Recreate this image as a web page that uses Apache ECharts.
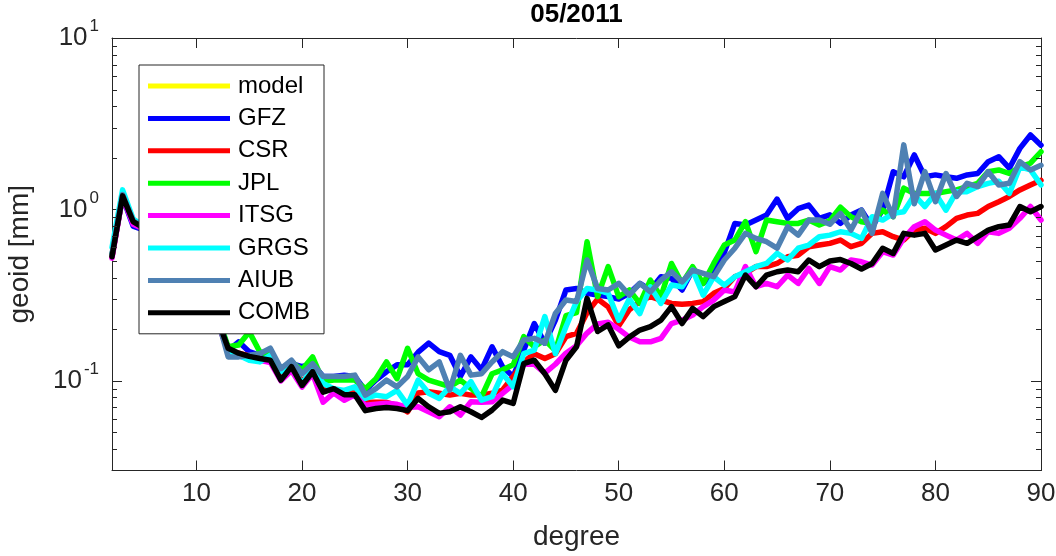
<!DOCTYPE html>
<html><head><meta charset="utf-8">
<script src="https://cdn.jsdelivr.net/npm/echarts@6/dist/echarts.min.js"></script>
<style>html,body{margin:0;padding:0;background:#fff}#c{width:1056px;height:556px}</style>
</head><body><div id="c"></div>
<script>
const TITLE = '05/2011';
const X_NAME = 'degree';
const Y_NAME = 'geoid [mm]';
const SERIES_NAMES = ['model','GFZ','CSR','JPL','ITSG','GRGS','AIUB','COMB'];
const DEGREES = [2,3,4,5,6,7,8,9,10,11,12,13,14,15,16,17,18,19,20,21,22,23,24,25,26,27,28,29,30,31,32,33,34,35,36,37,38,39,40,41,42,43,44,45,46,47,48,49,50,51,52,53,54,55,56,57,58,59,60,61,62,63,64,65,66,67,68,69,70,71,72,73,74,75,76,77,78,79,80,81,82,83,84,85,86,87,88,89,90];
const X_TICKS = [10,20,30,40,50,60,70,80,90];
const Y_MINOR_TICKS = [0.04,0.05,0.06,0.07,0.08,0.09,0.2,0.3,0.4,0.5,0.6,0.7,0.8,0.9,2,3,4,5,6,7,8,9];

const MODEL = [];
const GFZ = [0.54,1.18,0.80,0.76,0.68,0.60,0.52,0.47,0.40,0.33,0.22,
0.150,0.169,0.148,0.141,0.135,0.118,0.126,0.121,0.126,0.106,
0.106,0.108,0.106,0.088,0.101,0.113,0.124,0.124,0.147,0.166,
0.148,0.141,0.106,0.138,0.116,0.158,0.121,0.106,0.151,0.216,
0.166,0.226,0.339,0.346,0.324,0.317,0.310,0.300,0.324,0.370,
0.339,0.405,0.396,0.339,0.443,0.370,0.423,0.560,0.829,0.811,
0.867,0.927,1.15,0.887,1.01,1.06,0.887,0.93,0.83,0.927,
0.991,0.793,0.991,1.66,1.55,2.08,1.55,1.59,1.55,1.52,
1.59,1.62,1.90,2.03,1.74,2.27,2.72,2.37];
const CSR = [0.53,1.20,0.84,0.77,0.70,0.61,0.54,0.48,0.41,0.34,0.22,
0.150,0.145,0.140,0.135,0.130,0.110,0.120,0.100,0.110,0.090,
0.090,0.085,0.090,0.075,0.075,0.075,0.072,0.066,0.085,0.0865,
0.0846,0.0826,0.0846,0.0826,0.0826,0.0846,0.0884,0.106,0.129,0.144,
0.135,0.144,0.181,0.189,0.250,0.300,0.270,0.210,0.260,0.290,
0.310,0.296,0.283,0.280,0.283,0.290,0.324,0.346,0.405,0.423,
0.464,0.464,0.484,0.530,0.541,0.605,0.620,0.634,0.663,0.606,
0.634,0.725,0.741,0.693,0.663,0.758,0.776,0.725,0.793,0.887,
0.927,0.948,1.04,1.11,1.19,1.30,1.39,1.48];
const JPL = [0.54,1.21,0.86,0.79,0.71,0.63,0.56,0.49,0.43,0.35,0.24,
0.158,0.162,0.193,0.148,0.141,0.116,0.129,0.116,0.138,0.099,
0.101,0.101,0.101,0.090,0.103,0.129,0.103,0.155,0.110,0.101,
0.0966,0.0924,0.101,0.0904,0.0808,0.110,0.116,0.124,0.181,0.158,
0.173,0.150,0.240,0.250,0.648,0.310,0.464,0.310,0.339,0.283,
0.387,0.310,0.484,0.370,0.464,0.370,0.484,0.620,0.663,0.848,
0.567,0.867,0.848,0.829,0.829,0.867,0.811,0.860,1.03,0.907,
0.848,0.829,0.991,0.907,1.33,1.24,1.24,1.24,1.27,1.30,
1.36,1.42,1.66,1.70,1.62,1.77,1.86,2.17];
const ITSG = [0.52,1.19,0.82,0.77,0.69,0.61,0.54,0.47,0.41,0.33,0.22,
0.150,0.140,0.135,0.132,0.128,0.100,0.115,0.092,0.110,0.075,
0.085,0.077,0.083,0.072,0.073,0.074,0.073,0.070,0.0706,0.066,
0.0618,0.0706,0.0632,0.0755,0.075,0.0755,0.0846,0.095,0.125,0.125,
0.111,0.125,0.145,0.160,0.190,0.215,0.220,0.200,0.180,0.169,
0.169,0.177,0.216,0.226,0.242,0.271,0.296,0.339,0.330,0.464,
0.354,0.370,0.354,0.414,0.370,0.453,0.370,0.464,0.443,0.507,
0.495,0.474,0.567,0.542,0.678,0.793,0.848,0.758,0.708,0.663,
0.725,0.634,0.741,0.725,0.776,0.887,1.04,0.867];
const GRGS = [0.60,1.30,0.88,0.80,0.72,0.64,0.57,0.50,0.44,0.36,0.24,
0.151,0.141,0.132,0.129,0.141,0.113,0.121,0.0966,0.118,0.0966,
0.090,0.088,0.0923,0.0789,0.0826,0.0808,0.088,0.0721,0.101,0.0846,
0.079,0.0924,0.0846,0.099,0.0772,0.0808,0.110,0.0924,0.144,0.151,
0.237,0.144,0.207,0.290,0.346,0.339,0.324,0.226,0.300,0.247,
0.354,0.283,0.362,0.354,0.443,0.316,0.405,0.362,0.405,0.433,
0.464,0.484,0.554,0.507,0.594,0.620,0.693,0.708,0.741,0.725,
0.678,0.907,0.867,0.948,0.970,1.21,1.04,1.24,0.990,1.27,
1.27,1.36,1.42,1.46,1.24,1.77,1.70,1.39];
const AIUB = [0.55,1.22,0.86,0.78,0.70,0.62,0.55,0.48,0.42,0.34,0.23,
0.138,0.138,0.141,0.144,0.155,0.118,0.132,0.110,0.126,0.106,
0.106,0.106,0.108,0.0826,0.090,0.101,0.0923,0.106,0.138,0.116,
0.129,0.0884,0.141,0.108,0.110,0.129,0.148,0.138,0.173,0.177,
0.166,0.247,0.296,0.290,0.507,0.346,0.339,0.370,0.316,0.370,
0.330,0.387,0.433,0.378,0.443,0.423,0.405,0.507,0.594,0.725,
0.678,0.648,0.594,0.793,0.708,0.867,0.867,0.820,0.948,0.758,
0.991,0.725,1.24,0.907,2.38,1.08,1.66,1.11,1.62,1.19,
1.42,1.36,1.66,1.39,1.42,1.90,1.70,1.81];
const COMB = [0.53,1.20,0.85,0.78,0.70,0.62,0.55,0.48,0.42,0.34,0.23,
0.155,0.145,0.139,0.135,0.132,0.101,0.121,0.094,0.113,0.086,
0.090,0.083,0.083,0.067,0.069,0.070,0.069,0.067,0.079,0.0706,
0.0646,0.066,0.0706,0.066,0.0612,0.0675,0.0772,0.0738,0.126,0.132,
0.110,0.088,0.132,0.158,0.303,0.194,0.212,0.160,0.180,0.198,
0.207,0.226,0.271,0.216,0.265,0.237,0.271,0.290,0.310,0.414,
0.354,0.414,0.433,0.443,0.433,0.507,0.464,0.500,0.510,0.484,
0.449,0.484,0.593,0.554,0.725,0.708,0.725,0.580,0.620,0.663,
0.634,0.693,0.758,0.793,0.811,1.04,0.970,1.04];

const SERIES_VALUES = [MODEL, GFZ, CSR, JPL, ITSG, GRGS, AIUB, COMB];
const COLORS = ['#ffff00','#0000ff','#ff0000','#00ff00','#ff00ff','#00ffff','#4f81b3','#000000'];

const FONT = '"Liberation Sans", Arial, Helvetica, sans-serif';
const AX = '#262626';
const X_MIN = 2, X_MAX = 90, Y_MIN = 0.03, Y_MAX = 10;

const chart = echarts.init(document.getElementById('c'), null, {renderer: 'canvas'});

function yLabel(v) {
  const lg = Math.log10(v);
  const e = Math.round(lg);
  if (Math.abs(lg - e) > 1e-6) return '';
  return '{b|10}{s|' + e + '}';
}

const axisLineStyle = {show: true, onZero: false, lineStyle: {color: AX, width: 1}};

const series = SERIES_NAMES.map((name, i) => ({
  type: 'line',
  name: name,
  data: SERIES_VALUES[i].map((v, j) => [DEGREES[j], v]),
  xAxisIndex: 0,
  yAxisIndex: 0,
  color: COLORS[i],
  symbol: 'none',
  showSymbol: false,
  lineStyle: {color: COLORS[i], width: 5.5, join: 'round', cap: 'round'},
  emphasis: {disabled: true},
  z: 2 + i
}));

// minor log ticks (left and right frame), placed through the axis scales
series.push({
  type: 'custom',
  name: 'minorTicks',
  coordinateSystem: 'cartesian2d',
  xAxisIndex: 0, yAxisIndex: 0,
  data: Y_MINOR_TICKS.map(v => [X_MIN, v]),
  clip: false,
  silent: true,
  z: 20,
  renderItem: function (params, api) {
    const v = api.value(1);
    const l = api.coord([X_MIN, v]);
    const r = api.coord([X_MAX, v]);
    const y = Math.round(l[1]) + 0.5;
    return {
      type: 'group',
      children: [
        {type: 'line', shape: {x1: l[0], y1: y, x2: l[0] + 5, y2: y}, style: {stroke: AX, lineWidth: 1}},
        {type: 'line', shape: {x1: r[0] - 5, y1: y, x2: r[0], y2: y}, style: {stroke: AX, lineWidth: 1}}
      ]
    };
  }
});

chart.setOption({
  animation: false,
  backgroundColor: '#ffffff',
  title: {
    text: TITLE, left: 576.5, top: 2, textAlign: 'center', padding: 0,
    textStyle: {fontSize: 26, fontWeight: 'bold', color: '#000', fontFamily: FONT, lineHeight: 26}
  },
  grid: {left: 112, right: 15, top: 38, bottom: 85.5, containLabel: false, outerBoundsMode: 'none'},
  legend: {
    orient: 'vertical', left: 139, top: 65,
    padding: [8, 14, 8, 9],
    itemWidth: 82, itemHeight: 5, itemGap: 6.4, icon: 'rect',
    backgroundColor: '#ffffff', borderColor: AX, borderWidth: 1, borderRadius: 0,
    textStyle: {fontSize: 24, color: '#000', fontFamily: FONT, lineHeight: 26, padding: [0, 0, 0, 3]},
    selectedMode: false,
    data: SERIES_NAMES,
    z: 30
  },
  xAxis: [
    {
      type: 'value', min: X_MIN, max: X_MAX, position: 'bottom',
      axisLine: axisLineStyle,
      axisTick: {show: true, inside: true, length: 10, customValues: X_TICKS, lineStyle: {color: AX, width: 1}},
      axisLabel: {customValues: X_TICKS, fontSize: 26, lineHeight: 26, color: AX, margin: 10.5, fontFamily: FONT},
      splitLine: {show: false},
      name: X_NAME, nameLocation: 'middle', nameGap: 53, nameMoveOverlap: false,
      nameTextStyle: {fontSize: 28, lineHeight: 28, color: AX, fontFamily: FONT}
    },
    {
      type: 'value', min: X_MIN, max: X_MAX, position: 'top',
      axisLine: axisLineStyle,
      axisTick: {show: true, inside: true, length: 10, customValues: X_TICKS, lineStyle: {color: AX, width: 1}},
      axisLabel: {show: false},
      splitLine: {show: false}
    }
  ],
  yAxis: [
    {
      type: 'log', logBase: 10, min: Y_MIN, max: Y_MAX, position: 'left',
      axisLine: axisLineStyle,
      axisTick: {show: true, inside: true, length: 10, lineStyle: {color: AX, width: 1}},
      axisLabel: {
        formatter: yLabel, margin: 13, color: AX, fontFamily: FONT,
        rich: {
          b: {fontSize: 26, lineHeight: 26, color: AX, fontFamily: FONT, verticalAlign: 'bottom'},
          s: {fontSize: 17, lineHeight: 17, color: AX, fontFamily: FONT, verticalAlign: 'bottom', padding: [0, 0, 16, 2]}
        }
      },
      splitLine: {show: false},
      minorTick: {show: false},
      name: Y_NAME, nameLocation: 'middle', nameGap: 78, nameRotate: 90, nameMoveOverlap: false,
      nameTextStyle: {fontSize: 28, lineHeight: 28, color: AX, fontFamily: FONT}
    },
    {
      type: 'log', logBase: 10, min: Y_MIN, max: Y_MAX, position: 'right',
      axisLine: axisLineStyle,
      axisTick: {show: true, inside: true, length: 10, lineStyle: {color: AX, width: 1}},
      axisLabel: {show: false},
      splitLine: {show: false}
    }
  ],
  series: series
});
</script>
</body></html>
